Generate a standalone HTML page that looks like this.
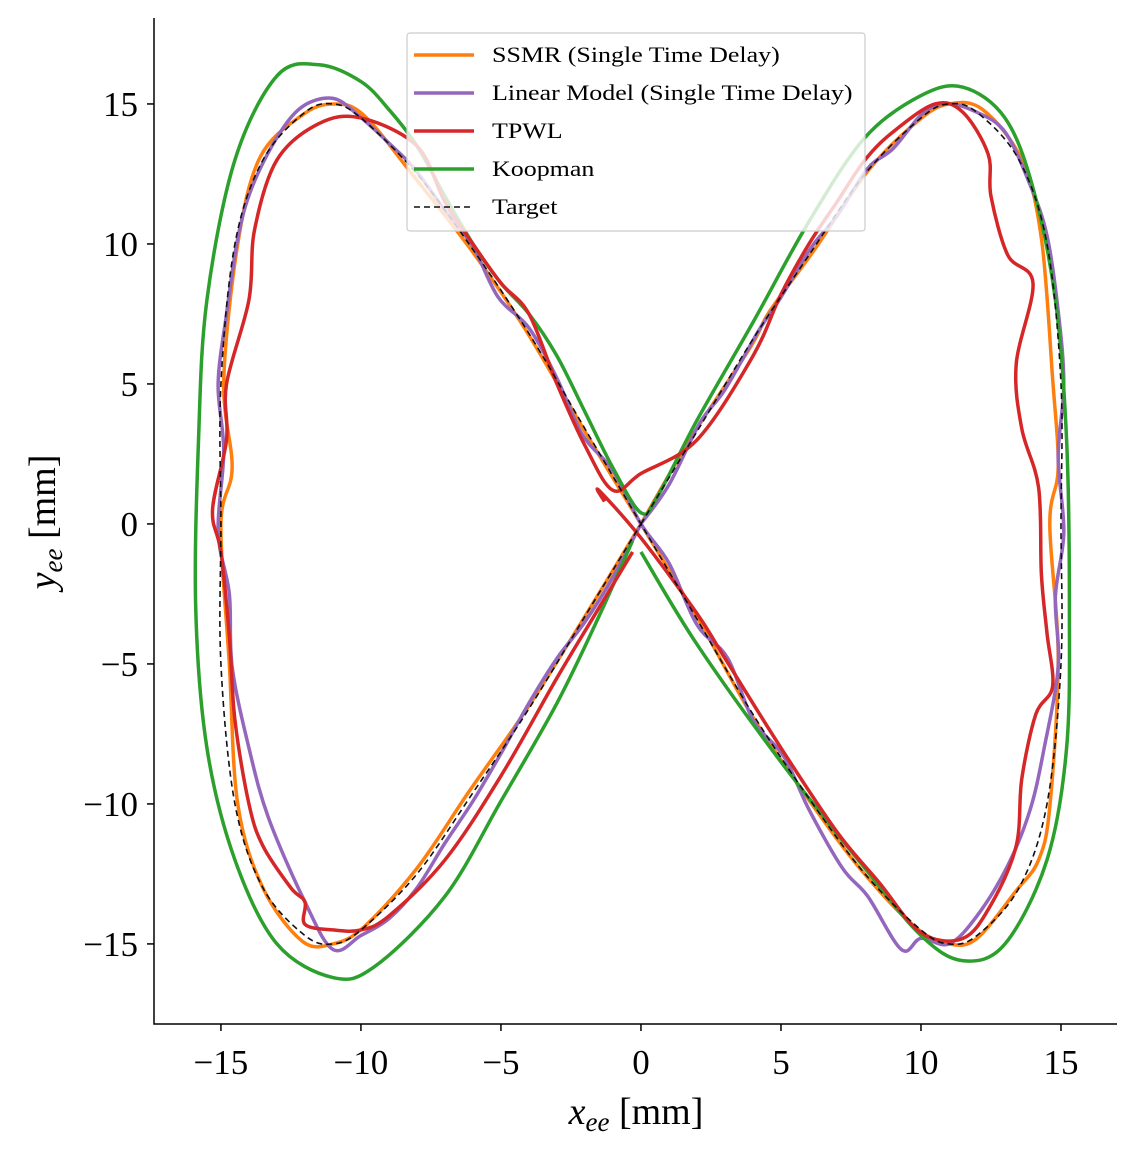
<!DOCTYPE html>
<html><head><meta charset="utf-8"><style>
html,body{margin:0;padding:0;background:#fff;}
svg{display:block;font-family:"Liberation Serif","DejaVu Serif",serif;}
</style></head><body>
<svg id="chart" width="1137" height="1153" viewBox="0 0 1137 1153" xmlns="http://www.w3.org/2000/svg">
<g id="plot"></g>
<g id="axes"></g>
<g id="legend"></g>
</svg>
<script>
const xTicks=[-15,-10,-5,0,5,10,15];
const yTicks=[-15,-10,-5,0,5,10,15];
const targetX=[0,2,4,6,8,10,11,12,13.5,14.5,15,15,15,14.5,13.5,12,11,10,8,6,4,2,0,-2,-4,-6,-8,-10,-11,-12,-13.5,-14.5,-15,-15,-15,-14.5,-13.5,-12,-11,-10,-8,-6,-4,-2,0];
const targetY=[0,3.3,6.6,9.6,12.5,14.5,15,14.7,13,10,5,0,-5,-10,-13,-14.7,-15,-14.5,-12.5,-9.8,-6.8,-3.4,0,3.4,6.8,9.8,12.5,14.5,15,14.7,13,10,5,0,-5,-10,-13,-14.7,-15,-14.5,-12.5,-9.6,-6.6,-3.3,0];
const ssmrX=[0,1.8,3.9,4.6,6.2,8.1,9.9,11,12.2,13.6,14.3,14.7,14.9,14.6,14.9,14.6,14.2,13.4,12,11,9.8,7.9,6.1,4,2.1,0,-2,-4.1,-6,-8.1,-9.9,-11,-12.1,-13.6,-14.4,-14.9,-14.6,-15,-14.7,-14.4,-13.5,-12.1,-11,-9.9,-8,-6.1,-4,-2,0];
const ssmrY=[0,3.1,6.3,7.6,9.8,12.6,14.4,15,14.8,13,10.2,5.2,2,0,-4.8,-10.1,-12,-13.1,-14.8,-15,-14.4,-12.4,-10,-6.9,-3.5,0,3.3,6.9,9.7,12.4,14.6,15,14.6,13.1,10,5.1,2,0,-5,-10,-13,-14.9,-15,-14.4,-12.3,-9.5,-6.5,-3.3,0];
const linX=[0,1,2.1,3,4.2,5,6.1,7,8.1,9,10.1,11,12,13,13.9,14.5,14.9,15.1,14.9,15.1,14.8,14.9,14.4,13.9,13.1,12,11,10,9.3,8.1,7.2,6,5.1,4,3.1,2,1,0,-1,-2.1,-3,-4,-5.1,-6,-7,-8.1,-9,-10.1,-11,-12.1,-13,-13.9,-14.4,-14.8,-15.1,-14.9,-15.1,-14.7,-14.6,-14,-13.3,-12,-11,-10,-9,-8,-7,-6,-5,-4,-3,-2,-1,0];
const linY=[0,1.4,3.6,4.8,6.9,8.1,9.9,11,12.7,13.4,14.7,15,14.7,14,12.1,10.3,7.6,5,2.4,-0.3,-2.6,-5.1,-8,-10.2,-12.2,-14,-15,-14.8,-15.2,-13.3,-12.3,-10.2,-8.3,-7,-4.8,-3.6,-1.4,0,1.9,3.2,5.2,7,8.1,9.9,11.2,12.7,13.6,14.6,15.2,14.9,13.8,12,10.2,7.5,5,2.6,-0.3,-2.5,-5.1,-8,-10.5,-13.5,-15.2,-14.7,-14.1,-13,-11.4,-9.9,-8.2,-6.4,-4.8,-3.5,-1.9,0];
const tpwlX=[-1.3,-1.5,0,2,3,5,7,8.5,10,11.5,12.5,13.4,13.6,14.1,14.7,14.5,14.3,14.2,13.6,13.4,14,13.1,12.5,12.4,11.5,10.5,9,8,7,6,5,4,2,0,-1,-2,-3,-4,-5,-6,-7,-8,-10,-11.5,-13,-13.8,-14,-14.8,-14.8,-15.3,-15,-14.7,-14.5,-14,-13.5,-12.5,-12,-12,-11,-10,-9,-7,-5,-3,-1.5,-0.3];
const tpwlY=[0.8,1.2,-0.5,-3.2,-4.8,-8,-11,-12.8,-14.6,-14.8,-13.6,-11.5,-9.1,-6.8,-5.8,-3.9,-1.8,1.3,3.4,5.7,8.6,9.6,11.7,13.2,14.7,15,14,13,11.5,10,8.2,6,3,1.8,1.2,2.8,5,7.5,8.6,10,11.5,13.5,14.5,14.3,13,10.5,8,5,3,0.5,-1,-4,-7,-10,-11.5,-13,-13.5,-14.3,-14.5,-14.5,-14,-12,-9,-5.5,-3,-1];
const koopX=[0,2,5,8,10,11.5,13,14.5,15.2,15.3,15.2,14.8,14,13,11.5,10,8,6,4,2,0.6,0,-1,-2,-3,-4,-5,-6,-7,-8,-9,-10,-11.5,-13,-14.5,-15.5,-15.8,-15.9,-15.5,-14.5,-13,-11,-9.5,-7,-5,-3,-1.5,-0.3];
const koopY=[-1,-4.3,-8.5,-12.3,-14.7,-15.6,-15,-12,-8,-3,3,8,12,14.5,15.6,15.3,13.8,10.8,7.2,3.7,1,0.4,2,4,6,7.5,8.6,10,11.7,13.5,14.8,15.8,16.4,16,13,8,3,-3,-8,-12,-15,-16.2,-15.8,-13.3,-9.9,-6.4,-3.3,-0.6];
const series=[
 {name:'ssmr',label:'SSMR (Single Time Delay)',color:'#ff7f0e',w:3.5,x:ssmrX,y:ssmrY},
 {name:'linear-model',label:'Linear Model (Single Time Delay)',color:'#9467bd',w:3.5,x:linX,y:linY},
 {name:'tpwl',label:'TPWL',color:'#d62728',w:3.5,x:tpwlX,y:tpwlY},
 {name:'koopman',label:'Koopman',color:'#2ca02c',w:3.5,x:koopX,y:koopY},
 {name:'target',label:'Target',color:'#111',w:1.6,x:targetX,y:targetY,dash:'6,4'}];
const L=154,R=1117,T=18,B=1024,xMin=-17.39,xMax=17.0,yMin=-17.86,yMax=18.07;
const sx=v=>L+(v-xMin)/(xMax-xMin)*(R-L);
const sy=v=>B-(v-yMin)/(yMax-yMin)*(B-T);
const NS='http://www.w3.org/2000/svg';
function mk(t,a,p){const e=document.createElementNS(NS,t);for(const k in a)e.setAttribute(k,a[k]);p.appendChild(e);return e;}
function smooth(xs,ys){const P=xs.map((v,i)=>[sx(v),sy(ys[i])]);let d='M'+P[0][0]+','+P[0][1];
 for(let i=0;i<P.length-1;i++){const p0=P[Math.max(0,i-1)],p1=P[i],p2=P[i+1],p3=P[Math.min(P.length-1,i+2)];
 d+=' C'+(p1[0]+(p2[0]-p0[0])/6)+','+(p1[1]+(p2[1]-p0[1])/6)+' '+(p2[0]-(p3[0]-p1[0])/6)+','+(p2[1]-(p3[1]-p1[1])/6)+' '+p2[0]+','+p2[1];}return d;}
const plot=document.getElementById('plot');
const order=[0,1,3,2,4];
order.forEach(i=>{const s=series[i];
 const p=mk('path',{d:smooth(s.x,s.y),fill:'none',stroke:s.color,'stroke-width':s.w,'stroke-linejoin':'round'},plot);
 if(s.dash)p.setAttribute('stroke-dasharray',s.dash);
 
 });
const ax=document.getElementById('axes');
const al=mk('path',{d:`M${L},${T} V${B} H${R}`,fill:'none',stroke:'#000','stroke-width':1.5},ax);


xTicks.forEach(v=>{const x=sx(v);mk('line',{x1:x,x2:x,y1:B,y2:B+7,stroke:'#000','stroke-width':1.5},ax);
 const t=mk('text',{x:x,y:B+50,'text-anchor':'middle','font-size':35},ax);t.textContent=v<0?'\u2212'+(-v):v;
 
 });
yTicks.forEach(v=>{const y=sy(v);mk('line',{x1:L-7,x2:L,y1:y,y2:y,stroke:'#000','stroke-width':1.5},ax);
 const t=mk('text',{x:L-16,y:y+12,'text-anchor':'end','font-size':35},ax);t.textContent=v<0?'\u2212'+(-v):v;
 
 });
const xt=mk('text',{x:636,y:1124,'text-anchor':'middle','font-size':38},ax);
xt.innerHTML='<tspan font-style="italic">x</tspan><tspan font-style="italic" font-size="27" dy="7">ee</tspan><tspan dy="-7"> [mm]</tspan>';


const yt=mk('text',{x:0,y:0,'text-anchor':'middle','font-size':38,transform:'translate(55,522) rotate(-90)'},ax);
yt.innerHTML='<tspan font-style="italic">y</tspan><tspan font-style="italic" font-size="27" dy="7">ee</tspan><tspan dy="-7"> [mm]</tspan>';


const lg=document.getElementById('legend');
const box=mk('rect',{x:407,y:33,width:458,height:198,rx:3,fill:'rgba(255,255,255,0.8)',stroke:'#ccc','stroke-width':1.2},lg);


series.forEach((s,i)=>{const y=55+i*38;
 const g=mk('g',{},lg);
 
 
 const l=mk('line',{x1:414,x2:474,y1:y,y2:y,stroke:s.color,'stroke-width':s.w},g);
 if(s.dash)l.setAttribute('stroke-dasharray',s.dash);
 const t=mk('text',{x:492,y:y+7,'font-size':22},g);t.textContent=s.label;
 const w=t.getComputedTextLength();
 t.setAttribute('lengthAdjust','spacingAndGlyphs');
 t.setAttribute('textLength',w*1.18);});
</script>
</body></html>
